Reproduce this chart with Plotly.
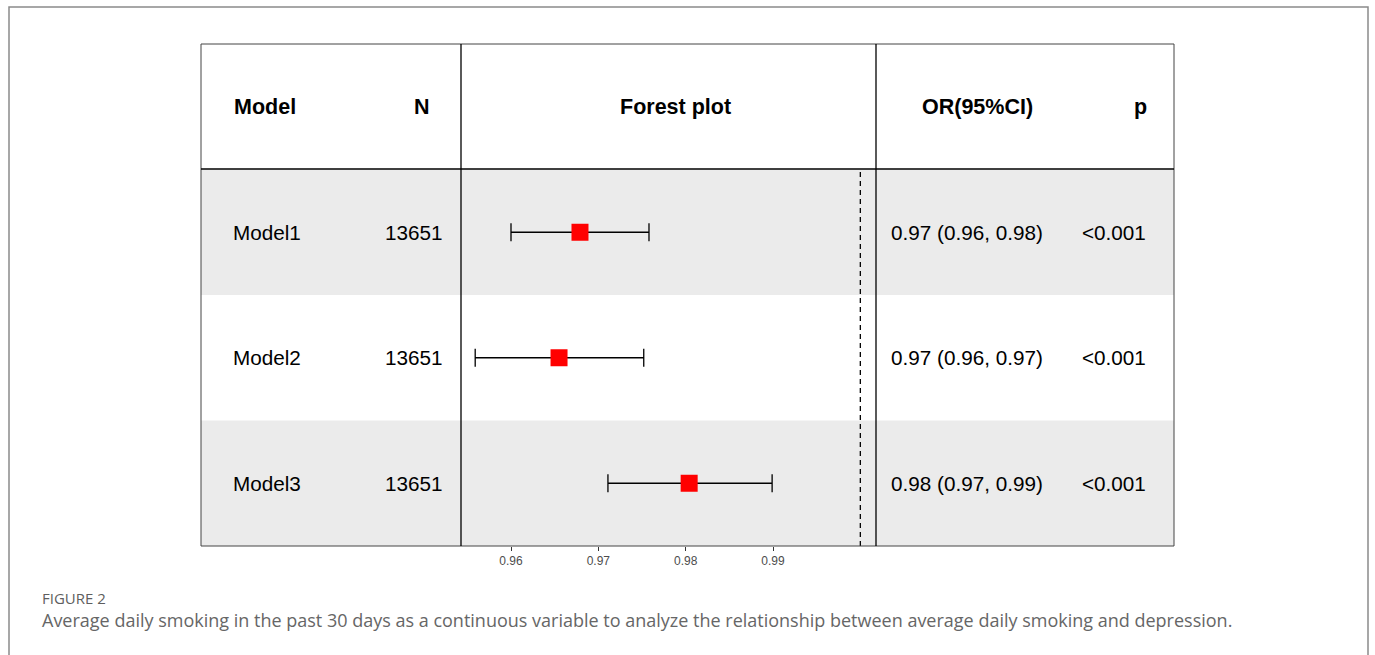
import plotly.graph_objects as go

models = ["Model1", "Model2", "Model3"]
n_values = ["13651", "13651", "13651"]
or_est = [0.9679, 0.9655, 0.9804]
ci_low = [0.9600, 0.9559, 0.9711]
ci_high = [0.9758, 0.9752, 0.9899]
or_text = ["0.97 (0.96, 0.98)", "0.97 (0.96, 0.97)", "0.98 (0.97, 0.99)"]
p_text = ["<0.001", "<0.001", "<0.001"]
tick_vals = [0.96, 0.97, 0.98, 0.99]
tick_text = ["0.96", "0.97", "0.98", "0.99"]
ref_value = 1.0
headers = ["Model", "N", "Forest plot", "OR(95%CI)", "p"]

W, H = 1375, 655
def px(x):
    return x / W
def py(y):
    return 1 - y / H

row_y = [2.5, 1.5, 0.5]

fig = go.Figure()
fig.add_trace(go.Scatter(
    x=or_est, y=row_y, mode="markers",
    marker=dict(symbol="square", size=17, color="#FF0000", line=dict(width=0)),
    error_x=dict(type="data", symmetric=False,
                 array=[h - e for h, e in zip(ci_high, or_est)],
                 arrayminus=[e - l for e, l in zip(or_est, ci_low)],
                 color="black", thickness=1.3, width=9),
    showlegend=False, hoverinfo="skip"))

shapes = []
for i, yc in enumerate(row_y):
    if i % 2 == 0:
        shapes.append(dict(type="rect", xref="paper", yref="y", x0=px(201), x1=px(1174),
                           y0=yc - 0.5, y1=yc + 0.5, fillcolor="#EBEBEB", line=dict(width=0), layer="below"))
shapes.append(dict(type="line", xref="x", yref="y", x0=ref_value, x1=ref_value, y0=0, y1=3,
                   line=dict(color="black", width=1.3, dash="5px,4px")))
shapes.append(dict(type="rect", xref="paper", yref="paper", x0=px(201), x1=px(1174), y0=py(546), y1=py(44),
                   line=dict(color="#444444", width=1)))
shapes.append(dict(type="line", xref="paper", yref="paper", x0=px(201), x1=px(1174), y0=py(169), y1=py(169),
                   line=dict(color="black", width=1.3)))
for xv in (461, 876):
    shapes.append(dict(type="line", xref="paper", yref="paper", x0=px(xv), x1=px(xv), y0=py(546), y1=py(44),
                       line=dict(color="black", width=1.3)))
shapes.append(dict(type="rect", xref="paper", yref="paper", x0=px(9), x1=px(1368), y0=py(680), y1=py(7),
                   line=dict(color="#8A8A8A", width=1.5)))

annotations = []
hfont = dict(family="Liberation Sans, Arial", size=21.5, color="black")
hpos = [(232, "left"), (422, "center"), (675, "center"), (977, "center"), (1140, "center")]
for h, (xp, anc) in zip(headers, hpos):
    annotations.append(dict(text="<b>" + h + "</b>", x=px(xp), y=3.5, xref="paper", yref="y",
                            xanchor=anc, yanchor="middle", showarrow=False, font=hfont))
rfont = dict(family="Liberation Sans, Arial", size=20.7, color="black")
for i, yc in enumerate(row_y):
    annotations.append(dict(text=models[i], x=px(231), y=yc, xref="paper", yref="y",
                            xanchor="left", yanchor="middle", showarrow=False, font=rfont))
    annotations.append(dict(text=n_values[i], x=px(445), y=yc, xref="paper", yref="y",
                            xanchor="right", yanchor="middle", showarrow=False, font=rfont))
    annotations.append(dict(text=or_text[i], x=px(889), y=yc, xref="paper", yref="y",
                            xanchor="left", yanchor="middle", showarrow=False, font=rfont))
    annotations.append(dict(text=p_text[i], x=px(1080), y=yc, xref="paper", yref="y",
                            xanchor="left", yanchor="middle", showarrow=False, font=rfont))

annotations.append(dict(text="FIGURE 2", x=px(40), y=py(598), xref="paper", yref="paper",
                        xanchor="left", yanchor="middle", showarrow=False,
                        font=dict(family="Open Sans", size=15, color="#5e5e5e")))
annotations.append(dict(text="Average daily smoking in the past 30 days as a continuous variable to analyze the relationship between average daily smoking and depression.",
                        x=px(40), y=py(620), xref="paper", yref="paper",
                        xanchor="left", yanchor="middle", showarrow=False,
                        font=dict(family="Open Sans", size=18, color="#666666")))

x0v = 0.96 - 50 / 87.33 * 0.01
x1v = 0.99 + 103 / 87.33 * 0.01

fig.update_layout(
    width=W, height=H,
    margin=dict(l=0, r=0, t=0, b=0),
    paper_bgcolor="white", plot_bgcolor="rgba(0,0,0,0)",
    xaxis=dict(domain=[px(461), px(876)], range=[x0v, x1v], tickvals=tick_vals, ticktext=tick_text,
               ticks="outside", ticklen=4, tickcolor="#333333", tickwidth=1,
               tickfont=dict(family="Liberation Sans, Arial", size=12, color="#4D4D4D"),
               showgrid=False, zeroline=False, showline=False, fixedrange=True),
    yaxis=dict(domain=[py(546), py(44)], range=[0, 4], showticklabels=False, ticks="",
               showgrid=False, zeroline=False, showline=False, fixedrange=True),
    shapes=shapes, annotations=annotations,
)

fig.write_html("out.html", config={"displayModeBar": False},
               post_script="document.body.style.margin='0';document.body.style.overflow='hidden';")
